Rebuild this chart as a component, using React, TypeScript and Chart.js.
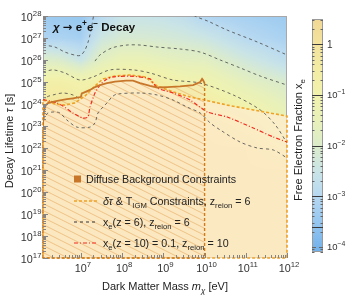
import React, { useEffect, useRef } from 'react';
import { Chart, registerables } from 'chart.js';

Chart.register(...registerables);

const FONT = '"Liberation Sans", Arial, Helvetica, sans-serif';

// ---- axes ----
const massMin = 1.2e6;
const massMax = 1e12;
const tauMin = 1e17;
const tauMax = 1e28;
const xTickExps = [7, 8, 9, 10, 11, 12];
const yTickExps = [17, 18, 19, 20, 21, 22, 23, 24, 25, 26, 27, 28];
const cbarTickExps = [0, -1, -2, -3, -4];
const cbarMinLog = -4.1;
const cbarMaxLog = 0.5;
const cbarContourLevels = [0, -1, -2, -3, -3.6];

// ---- curves: log10(m_chi / eV), log10(tau / s) ----
const diffuseLogM = [6.076, 6.076, 6.09, 6.11, 6.14, 6.2, 6.368, 6.49, 6.66, 6.806, 6.903, 6.976, 7.0, 7.02, 7.07, 7.219, 7.34, 7.462, 7.632, 7.826, 8.094, 8.264, 8.434, 8.677, 8.85, 9.09, 9.406, 9.722, 9.893, 9.94, 9.965, 10.0, 10.0, 6.076];
const diffuseLogTau = [17, 22.95, 23.4, 23.75, 23.93, 24.04, 24.12, 24.17, 24.22, 24.26, 24.29, 24.31, 24.33, 24.48, 24.52, 24.64, 24.77, 24.86, 24.95, 25.02, 25.06, 25.06, 24.95, 24.82, 24.75, 24.77, 24.8, 24.86, 25.0, 25.14, 25.08, 24.95, 17, 17];

const dtauLogM = [6.076, 6.368, 6.611, 6.854, 7.097, 7.34, 7.535, 7.826, 8.191, 8.556, 8.847, 9.236, 9.649, 10.1, 10.549, 11.181, 12.0, 12.0, 6.076, 6.076];
const dtauLogTau = [24.18, 24.0, 23.95, 24.05, 24.36, 24.82, 25.14, 25.27, 25.32, 25.23, 24.82, 24.55, 24.32, 24.14, 23.95, 23.73, 23.45, 17, 17, 24.18];

const xe10LogM = [6.076, 6.246, 6.417, 6.562, 6.806, 7.049, 7.17, 7.219, 7.34, 7.462, 7.632, 7.778, 8.191, 8.677, 8.847, 9.236, 9.649, 10.063, 10.549, 11.181, 11.667, 12.0];
const xe10LogTau = [24.2, 24.14, 24.05, 23.91, 23.59, 23.36, 23.41, 23.86, 24.5, 24.86, 25.14, 25.23, 25.27, 25.14, 24.73, 24.5, 24.18, 23.64, 23.41, 22.91, 22.5, 22.27];

// x_e(z=6) contours
const contourALogM = [6.076, 6.246, 6.49];
const contourALogTau = [27.95, 28.05, 28.14];
const contourBLogM = [6.076, 6.368, 6.611, 6.903, 7.0, 7.097, 7.17, 7.219, 7.267, 7.316, 7.4, 8.5, 9.6, 9.722, 10.1, 10.549, 11.278, 12.0];
const contourBLogTau = [26.68, 26.59, 26.36, 26.2, 26.22, 26.45, 26.8, 27.14, 27.59, 28.09, 28.6, 29.3, 28.4, 28.05, 27.75, 27.36, 26.82, 26.23];
const contourXLogM = [7.34, 7.462, 7.754, 8.118, 8.434, 8.847, 9.406, 9.893, 10.379, 10.865, 11.351, 12.0];
const contourXLogTau = [25.95, 26.23, 26.55, 26.68, 26.68, 26.59, 26.5, 26.36, 26.0, 25.64, 25.27, 24.86];
const contourCLogM = [6.076, 6.319, 6.611, 6.976, 7.292, 7.705, 8.264, 8.677, 9.236, 9.893, 10.695, 11.351, 11.716, 12.0];
const contourCLogTau = [25.45, 25.55, 25.41, 25.09, 25.23, 25.55, 25.55, 25.41, 25.09, 24.95, 24.41, 23.73, 23.05, 22.23];
const contourDLogM = [6.076, 6.125, 6.198, 6.368, 6.49, 6.66, 6.903, 7.219, 7.34, 7.413, 7.535, 7.632, 7.754, 7.875, 8.434, 8.847, 9.236, 9.577, 9.893, 10.136, 10.379, 10.865, 11.278, 11.667, 12.0];
const contourDLogTau = [23.27, 23.41, 23.59, 23.64, 23.59, 23.27, 22.95, 22.95, 23.14, 23.59, 23.86, 24.05, 24.32, 24.45, 24.5, 24.41, 24.18, 23.86, 23.59, 23.14, 22.82, 22.27, 22.0, 21.91, 21.55];
const contourFLogM = [6.076, 6.174, 6.319, 6.562, 6.806, 6.976];
const contourFLogTau = [24.14, 24.32, 24.41, 24.5, 24.41, 24.23];

// ---- free electron fraction map, log10 x_e(z=6) ----
const heatLogM = [6, 6.5, 7, 7.5, 8, 8.5, 9, 9.5, 10, 11, 12];
const heatLogTau = [28, 27, 26, 25, 24, 23, 22, 21, 17];
const heatRow28 = [-3.4, -3.45, -3.5, -2.95, -2.57, -2.55, -2.6, -2.76, -3.1, -3.25, -3.4];
const heatRow27 = [-3.1, -3.15, -3.25, -2.4, -2.15, -2.14, -2.2, -2.29, -2.42, -2.95, -3.2];
const heatRow26 = [-1.9, -2.05, -2.5, -1.75, -1.41, -1.42, -1.59, -1.71, -1.75, -2.32, -2.8];
const heatRow25 = [-0.79, -0.74, -0.95, -0.76, -0.49, -0.51, -0.7, -1.0, -1.07, -1.69, -2.1];
const heatRow24 = [-0.33, -0.21, -0.49, -0.15, 0.05, 0.05, 0.04, -0.05, -0.6, -1.06, -1.67];
const heatRow23 = [0.03, 0.03, -0.02, 0.04, 0.06, 0.06, 0.06, 0.04, 0.03, -0.47, -1.29];
const heatRow22 = [0.06, 0.06, 0.05, 0.06, 0.06, 0.06, 0.06, 0.06, 0.06, 0.03, -0.66];
const heatRow21 = [0.06, 0.06, 0.06, 0.06, 0.06, 0.06, 0.06, 0.06, 0.06, 0.06, 0.03];
const heatRow17 = [0.06, 0.06, 0.06, 0.06, 0.06, 0.06, 0.06, 0.06, 0.06, 0.06, 0.06];
const heatLogXe = [heatRow28, heatRow27, heatRow26, heatRow25, heatRow24, heatRow23, heatRow22, heatRow21, heatRow17];

// colour map (log10 x_e -> colour)
const cmapLogXe = [-4.1, -3.5, -3.0, -2.5, -2.0, -1.5, -1.0, -0.5, 0.0, 0.5];
const cmapColors = ['#70b0ea', '#96c7f0', '#b6d8f1', '#cae4e6', '#dcecca', '#e9f1b9', '#f1f2ad', '#f3eca4', '#f3e39d', '#f1d894'];

type Seg = { t: string; i?: boolean; b?: boolean; sub?: boolean; sup?: boolean; f?: string };

function segFont(s: Seg, size: number, small: number) {
  const sz = s.sub || s.sup ? size * small : size;
  return `${s.i ? 'italic ' : ''}${s.b ? 'bold ' : ''}${sz}px ${s.f || FONT}`;
}
function richWidth(ctx: CanvasRenderingContext2D, segs: Seg[], size: number, small: number) {
  let w = 0;
  for (const s of segs) {
    ctx.font = segFont(s, size, small);
    w += ctx.measureText(s.t).width;
  }
  return w;
}
function drawRich(ctx: CanvasRenderingContext2D, segs: Seg[], x: number, y: number, size: number, align: string, color: string, small = 0.72) {
  const w = richWidth(ctx, segs, size, small);
  let cx = align === 'left' ? x : align === 'center' ? x - w / 2 : x - w;
  ctx.fillStyle = color;
  ctx.textAlign = 'left';
  ctx.textBaseline = 'alphabetic';
  for (const s of segs) {
    ctx.font = segFont(s, size, small);
    const dy = s.sub ? size * 0.28 : s.sup ? -size * 0.42 : 0;
    ctx.fillText(s.t, cx, y + dy);
    cx += ctx.measureText(s.t).width;
  }
}

function hexRgb(h: string) {
  return [parseInt(h.slice(1, 3), 16), parseInt(h.slice(3, 5), 16), parseInt(h.slice(5, 7), 16)];
}
const cmapRgb = cmapColors.map(hexRgb);
function cmap(v: number) {
  if (v <= cmapLogXe[0]) return cmapRgb[0];
  for (let i = 0; i < cmapLogXe.length - 1; i++) {
    if (v <= cmapLogXe[i + 1]) {
      const t = (v - cmapLogXe[i]) / (cmapLogXe[i + 1] - cmapLogXe[i]);
      const a = cmapRgb[i], b = cmapRgb[i + 1];
      return [a[0] + (b[0] - a[0]) * t, a[1] + (b[1] - a[1]) * t, a[2] + (b[2] - a[2]) * t];
    }
  }
  return cmapRgb[cmapRgb.length - 1];
}
function locate(arr: number[], v: number): [number, number] {
  for (let i = 0; i < arr.length - 1; i++) {
    const a = arr[i], b = arr[i + 1];
    if ((v - a) * (v - b) <= 0) return [i, (v - a) / (b - a)];
  }
  if (Math.abs(v - arr[0]) < Math.abs(v - arr[arr.length - 1])) return [0, 0];
  return [arr.length - 2, 1];
}

function makeHatch(): CanvasPattern | string {
  const c = document.createElement('canvas');
  c.width = 14;
  c.height = 7;
  const g = c.getContext('2d')!;
  g.fillStyle = 'rgba(250,226,190,0.25)';
  g.fillRect(0, 0, 14, 7);
  g.strokeStyle = 'rgba(232,168,96,0.6)';
  g.lineWidth = 1;
  for (const k of [-1, 0, 1]) {
    g.beginPath();
    g.moveTo(-2, -1 + k * 7);
    g.lineTo(16, 8 + k * 7);
    g.stroke();
  }
  const p = g.createPattern(c, 'repeat');
  return p || 'rgba(240,190,130,0.3)';
}

const pts = (lm: number[], lt: number[]) => lm.map((m, i) => ({ x: Math.pow(10, m), y: Math.pow(10, lt[i]) }));

const bgPlugin = {
  id: 'bgmap',
  beforeDatasetsDraw(chart: any) {
    const ctx: CanvasRenderingContext2D = chart.ctx;
    const ca = chart.chartArea;
    const xs = chart.scales.x, ys = chart.scales.y;
    const w = Math.round(ca.right - ca.left), h = Math.round(ca.bottom - ca.top);
    const off = document.createElement('canvas');
    off.width = w;
    off.height = h;
    const octx = off.getContext('2d')!;
    const img = octx.createImageData(w, h);
    const cols: [number, number][] = [];
    for (let i = 0; i < w; i++) cols.push(locate(heatLogM, Math.log10(xs.getValueForPixel(ca.left + i + 0.5))));
    for (let j = 0; j < h; j++) {
      const [r, rt] = locate(heatLogTau, Math.log10(ys.getValueForPixel(ca.top + j + 0.5)));
      const r0 = heatLogXe[r], r1 = heatLogXe[r + 1];
      for (let i = 0; i < w; i++) {
        const [c, ct] = cols[i];
        const top = r0[c] + (r0[c + 1] - r0[c]) * ct;
        const bot = r1[c] + (r1[c + 1] - r1[c]) * ct;
        const v = top + (bot - top) * rt;
        const col = cmap(v);
        const k = (j * w + i) * 4;
        img.data[k] = col[0];
        img.data[k + 1] = col[1];
        img.data[k + 2] = col[2];
        img.data[k + 3] = 255;
      }
    }
    octx.putImageData(img, 0, 0);
    ctx.save();
    ctx.drawImage(off, ca.left, ca.top);
    ctx.strokeStyle = '#a8a8a8';
    ctx.lineWidth = 1;
    ctx.strokeRect(ca.left + 0.5, ca.top + 0.5, ca.right - ca.left - 1, ca.bottom - ca.top - 1);
    ctx.restore();
  },
};

const fgPlugin = {
  id: 'decor',
  afterDatasetsDraw(chart: any) {
    const ctx: CanvasRenderingContext2D = chart.ctx;
    const ca = chart.chartArea;
    const xs = chart.scales.x, ys = chart.scales.y;
    ctx.save();
    // ticks
    ctx.strokeStyle = '#858585';
    ctx.lineWidth = 1;
    for (let e = 6; e <= 12; e++) {
      for (let k = 1; k <= 9; k++) {
        const v = k * Math.pow(10, e);
        if (v < massMin || v > massMax) continue;
        const px = Math.round(xs.getPixelForValue(v)) + 0.5;
        const len = k === 1 ? 5 : 3;
        ctx.beginPath();
        ctx.moveTo(px, ca.bottom);
        ctx.lineTo(px, ca.bottom - len);
        ctx.stroke();
      }
    }
    for (let e = 17; e <= 28; e++) {
      for (let k = 1; k <= 9; k++) {
        const v = k * Math.pow(10, e);
        if (v < tauMin || v > tauMax) continue;
        const py = Math.round(ys.getPixelForValue(v)) + 0.5;
        const len = k === 1 ? 5 : 3;
        ctx.beginPath();
        ctx.moveTo(ca.left, py);
        ctx.lineTo(ca.left + len, py);
        ctx.stroke();
      }
    }
    // tick labels
    for (const e of xTickExps) {
      const px = xs.getPixelForValue(Math.pow(10, e));
      drawRich(ctx, [{ t: '10' }, { t: String(e), sup: true }], px + 2, ca.bottom + 14, 10.8, 'center', '#333');
    }
    for (const e of yTickExps) {
      const py = ys.getPixelForValue(Math.pow(10, e));
      drawRich(ctx, [{ t: '10' }, { t: String(e), sup: true }], ca.left - 1.5, py + 4.5, 10.8, 'right', '#333');
    }
    // axis titles
    drawRich(ctx, [{ t: 'Dark Matter Mass ' }, { t: 'm', i: true }, { t: 'χ', i: true, sub: true }, { t: ' [eV]' }], (ca.left + ca.right) / 2, 290, 11, 'center', '#222');
    ctx.save();
    ctx.translate(9, (ca.top + ca.bottom) / 2 + 4);
    ctx.rotate(-Math.PI / 2);
    drawRich(ctx, [{ t: 'Decay Lifetime ' }, { t: 'τ', i: true }, { t: ' [s]' }], 0, 4, 11, 'center', '#222');
    ctx.restore();
    // title
    drawRich(ctx, [{ t: 'χ', b: true, i: true }, { t: ' ', b: true }, { t: '→', b: true, f: '"DejaVu Sans", sans-serif' }, { t: ' e', b: true }, { t: '+', b: true, sup: true }, { t: 'e', b: true }, { t: '−', b: true, sup: true }, { t: ' Decay', b: true }], 53, 31, 11.5, 'left', '#111');

    // legend
    const lx0 = 74, lx1 = 97, ltx = 103;
    const rowsY = [179, 201, 222, 243];
    const lsize = 10.7;
    ctx.fillStyle = '#c8772a';
    ctx.fillRect(lx0, rowsY[0] - 3.5, 7, 7);
    drawRich(ctx, [{ t: 'Diffuse Background Constraints' }], 86, rowsY[0] + 3.8, lsize, 'left', '#222');
    const sample = (y: number, color: string, dash: number[], width: number) => {
      ctx.save();
      ctx.strokeStyle = color;
      ctx.lineWidth = width;
      ctx.setLineDash(dash);
      ctx.beginPath();
      ctx.moveTo(lx0, y);
      ctx.lineTo(lx1, y);
      ctx.stroke();
      ctx.restore();
    };
    sample(rowsY[1], '#f0a224', [3, 2], 1.6);
    drawRich(ctx, [{ t: 'δτ', i: true }, { t: ' & T' }, { t: 'IGM', sub: true }, { t: ' Constraints, z' }, { t: 'reion', sub: true }, { t: ' = 6' }], ltx, rowsY[1] + 3.8, lsize, 'left', '#222');
    sample(rowsY[2], '#333', [3, 3], 1);
    drawRich(ctx, [{ t: 'x' }, { t: 'e', sub: true }, { t: '(z = 6), z' }, { t: 'reion', sub: true }, { t: ' = 6' }], ltx, rowsY[2] + 3.8, lsize, 'left', '#222');
    sample(rowsY[3], '#f22a1e', [4, 2, 1, 2], 1.2);
    drawRich(ctx, [{ t: 'x' }, { t: 'e', sub: true }, { t: '(z = 10) = 0.1, z' }, { t: 'reion', sub: true }, { t: ' = 10' }], ltx, rowsY[3] + 3.8, lsize, 'left', '#222');

    // colour bar
    const bx0 = 312, bx1 = 323, by0 = 19, by1 = 252;
    const span = cbarMaxLog - cbarMinLog;
    const cy = (L: number) => by0 + ((cbarMaxLog - L) / span) * (by1 - by0);
    const grad = ctx.createLinearGradient(0, by0, 0, by1);
    cmapLogXe.forEach((L, i) => {
      const f = Math.min(1, Math.max(0, (cbarMaxLog - L) / span));
      grad.addColorStop(f, cmapColors[i]);
    });
    ctx.fillStyle = grad;
    ctx.fillRect(bx0, by0, bx1 - bx0, by1 - by0);
    ctx.strokeStyle = '#9a9a9a';
    ctx.lineWidth = 1;
    ctx.strokeRect(bx0 + 0.5, by0 + 0.5, bx1 - bx0 - 1, by1 - by0 - 1);
    ctx.strokeStyle = '#666';
    for (let e = -5; e <= 0; e++) {
      for (let k = 1; k <= 9; k++) {
        const L = e + Math.log10(k);
        if (L < cbarMinLog || L > cbarMaxLog) continue;
        const y = Math.round(cy(L)) + 0.5;
        const len = k === 1 ? 4 : 2.5;
        ctx.beginPath();
        ctx.moveTo(bx0, y);
        ctx.lineTo(bx0 + len, y);
        ctx.moveTo(bx1, y);
        ctx.lineTo(bx1 - len, y);
        ctx.stroke();
      }
    }
    ctx.strokeStyle = '#3a3a3a';
    for (const L of cbarContourLevels) {
      const y = Math.round(cy(L)) + 0.5;
      ctx.beginPath();
      ctx.moveTo(bx0, y);
      ctx.lineTo(bx1, y);
      ctx.stroke();
    }
    for (const e of cbarTickExps) {
      const y = cy(e) + 3.5;
      if (e === 0) drawRich(ctx, [{ t: '1' }], 327, y, 10, 'left', '#333');
      else drawRich(ctx, [{ t: '10' }, { t: '−' + String(-e), sup: true }], 327, y, 9.5, 'left', '#333');
    }
    ctx.save();
    ctx.translate(298, 140);
    ctx.rotate(-Math.PI / 2);
    drawRich(ctx, [{ t: 'Free Electron Fraction x' }, { t: 'e', sub: true }], 0, 4, 11, 'center', '#222');
    ctx.restore();
    ctx.restore();
  },
};

export default function App() {
  const ref = useRef<HTMLCanvasElement>(null);
  useEffect(() => {
    document.body.style.margin = '0';
    const canvas = ref.current!;
    const hatch = makeHatch();
    const nDiff = diffuseLogM.length;
    const gray = 'rgba(72,72,72,0.8)';
    const contour = (lm: number[], lt: number[], order: number) => ({
      data: pts(lm, lt),
      borderColor: gray,
      borderWidth: 1,
      borderDash: [3, 3],
      pointRadius: 0,
      tension: 0.3,
      fill: false,
      order,
    });
    const edge = (lm: number[], lt: number[], order: number) => ({
      data: pts(lm, lt),
      borderColor: '#d07a1c',
      borderWidth: 1.4,
      borderDash: [3, 2],
      pointRadius: 0,
      tension: 0,
      fill: false,
      clip: false,
      order,
    });
    const chart = new Chart(canvas, {
      type: 'line',
      data: {
        datasets: [
          {
            data: pts(diffuseLogM.slice(1, nDiff - 2), diffuseLogTau.slice(1, nDiff - 2)),
            borderColor: '#c8772a',
            borderWidth: 1.8,
            pointRadius: 0,
            tension: 0,
            fill: false,
            order: 0,
          },
          edge(diffuseLogM.slice(0, 2), diffuseLogTau.slice(0, 2), 1),
          edge(diffuseLogM.slice(nDiff - 3), diffuseLogTau.slice(nDiff - 3), 1),
          {
            data: pts(xe10LogM, xe10LogTau),
            borderColor: '#f22a1e',
            borderWidth: 1.2,
            borderDash: [4, 2, 1, 2],
            pointRadius: 0,
            tension: 0.2,
            fill: false,
            order: 2,
          },
          {
            data: pts(dtauLogM, dtauLogTau),
            borderColor: '#f0a224',
            borderWidth: 1.6,
            borderDash: [3, 2],
            pointRadius: 0,
            tension: 0,
            fill: false,
            clip: false as any,
            order: 3,
          },
          contour(contourALogM, contourALogTau, 4),
          contour(contourBLogM, contourBLogTau, 5),
          contour(contourXLogM, contourXLogTau, 6),
          contour(contourCLogM, contourCLogTau, 7),
          contour(contourDLogM, contourDLogTau, 8),
          contour(contourFLogM, contourFLogTau, 9),
          {
            data: pts(diffuseLogM, diffuseLogTau),
            borderWidth: 0,
            borderColor: 'rgba(0,0,0,0)',
            backgroundColor: hatch as any,
            pointRadius: 0,
            tension: 0,
            fill: 'shape',
            order: 10,
          } as any,
          {
            data: pts(dtauLogM, dtauLogTau),
            borderWidth: 0,
            borderColor: 'rgba(0,0,0,0)',
            backgroundColor: 'rgba(253,236,210,0.7)',
            pointRadius: 0,
            tension: 0,
            fill: 'shape',
            order: 11,
          } as any,
        ],
      },
      options: {
        responsive: false,
        animation: false,
        devicePixelRatio: 1,
        events: [],
        layout: { padding: { left: 43, top: 16, right: 59, bottom: 46 } },
        plugins: { legend: { display: false }, tooltip: { enabled: false }, title: { display: false } },
        scales: {
          x: { type: 'logarithmic', min: massMin, max: massMax, display: false },
          y: { type: 'logarithmic', min: tauMin, max: tauMax, display: false },
        },
      },
      plugins: [bgPlugin, fgPlugin],
    } as any);
    return () => chart.destroy();
  }, []);
  return <canvas ref={ref} width={346} height={304} style={{ display: 'block', width: 346, height: 304 }} />;
}
